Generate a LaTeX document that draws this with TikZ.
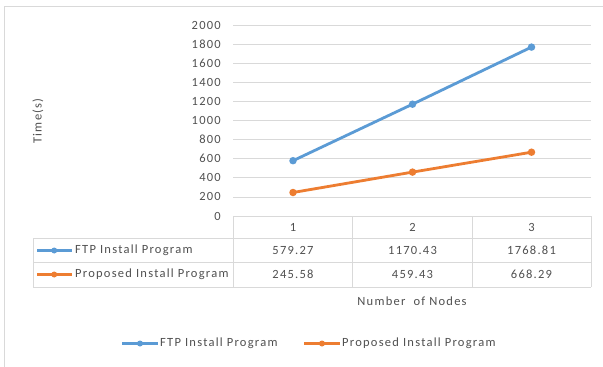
\documentclass[tikz,border=0pt]{standalone}
\usepackage{fontspec}
\setmainfont{Carlito}[LetterSpace=10]
\definecolor{ftpblue}{HTML}{5B9BD5}
\definecolor{proporange}{HTML}{ED7D31}
\definecolor{gridgray}{HTML}{D9D9D9}
\definecolor{textgray}{HTML}{505050}

\begin{document}
\begin{tikzpicture}[x=1pt,y=-1pt,
  lbl/.style={text=textgray,font=\fontsize{12.5}{14}\selectfont,inner sep=0pt},
  gridline/.style={draw=gridgray,line width=0.8pt},
  series/.style={line width=2.8pt,line cap=round,line join=round},
  dot/.style={circle,fill,inner sep=0pt,minimum size=7.5pt},
  keydot/.style={circle,fill,inner sep=0pt,minimum size=6pt},
  keyline/.style={line width=2.6pt}]

\useasboundingbox (0,0) rectangle (603,367);
\fill[white] (0,0) rectangle (603,367);

% chart frame (left and top edges visible)
\draw[gridline] (4.5,370) -- (4.5,6.5) -- (606,6.5);

% horizontal gridlines and value axis labels
\foreach \v [evaluate=\v as \yy using 216-19.1*\v, evaluate=\v as \lab using int(200*\v)] in {0,...,10} {
  \draw[gridline] (233,\yy) -- (591,\yy);
  \node[lbl,anchor=east] (tick\v) at (221,\yy) {\lab};
}

% axis titles
\node[lbl,rotate=90] (ytitle) at (38,121) {Time(s)};
\node[lbl] (xtitle) at (412,301) {Number\ \ of Nodes};

% data table grid
\draw[gridline] (233,216) -- (233,287);
\draw[gridline] (352.5,216) -- (352.5,287);
\draw[gridline] (472,216) -- (472,287);
\draw[gridline] (591,216) -- (591,287);
\draw[gridline] (33,238.5) -- (591,238.5);
\draw[gridline] (33,262.5) -- (591,262.5);
\draw[gridline] (33,287) -- (591,287);
\draw[gridline] (33,238.5) -- (33,287);

% category headers
\node[lbl] (cat1) at (293,227) {1};
\node[lbl] (cat2) at (412.5,227) {2};
\node[lbl] (cat3) at (531.5,227) {3};

% row keys and labels
\draw[keyline,ftpblue] (37,250.5) -- (71.5,250.5);
\node[keydot,ftpblue] (rk1) at (54.2,250.5) {};
\node[lbl,anchor=west] (row1) at (75,250.5) {FTP Install Program};
\draw[keyline,proporange] (37,274.5) -- (71.5,274.5);
\node[keydot,proporange] (rk2) at (54.2,274.5) {};
\node[lbl,anchor=west] (row2) at (75,274.5) {Proposed Install Program};

% table values
\node[lbl] (f1) at (293,250.5) {579.27};
\node[lbl] (f2) at (412.5,250.5) {1170.43};
\node[lbl] (f3) at (531.5,250.5) {1768.81};
\node[lbl] (p1) at (293,274.5) {245.58};
\node[lbl] (p2) at (412.5,274.5) {459.43};
\node[lbl] (p3) at (531.5,274.5) {668.29};

% data series
\coordinate (a1) at (293,160.7);
\coordinate (a2) at (412.5,104.2);
\coordinate (a3) at (531.5,47.1);
\coordinate (b1) at (293,192.5);
\coordinate (b2) at (412.5,172.1);
\coordinate (b3) at (531.5,152.2);
\draw[series,ftpblue] (a1) -- (a2) -- (a3);
\draw[series,proporange] (b1) -- (b2) -- (b3);
\foreach \p in {a1,a2,a3} \node[dot,ftpblue] (m\p) at (\p) {};
\foreach \p in {b1,b2,b3} \node[dot,proporange] (m\p) at (\p) {};

% legend
\draw[keyline,ftpblue] (122,343.5) -- (158,343.5);
\node[keydot,ftpblue] (lk1) at (140,343.5) {};
\node[lbl,anchor=west] (leg1) at (160,343.5) {FTP Install Program};
\draw[keyline,proporange] (304,343.5) -- (340,343.5);
\node[keydot,proporange] (lk2) at (322,343.5) {};
\node[lbl,anchor=west] (leg2) at (342,343.5) {Proposed Install Program};
\end{tikzpicture}
\end{document}
